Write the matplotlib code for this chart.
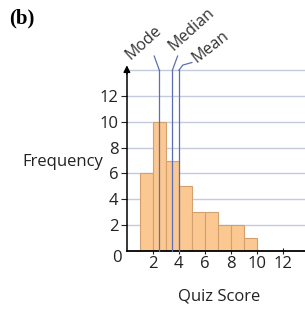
import matplotlib.pyplot as plt

# Datos del histograma
bin_left = [1, 2, 3, 4, 5, 6, 7, 8, 9]
frequency = [6, 10, 7, 5, 3, 3, 2, 2, 1]
x_ticks = [2, 4, 6, 8, 10, 12]
y_ticks = [2, 4, 6, 8, 10, 12]
stat_names = ["Mode", "Median", "Mean"]
stat_values = [2.5, 3.5, 4.0]

plt.rcParams['font.family'] = ['Open Sans', 'DejaVu Sans']

fig = plt.figure(figsize=(3.05, 3.09), dpi=100)
ax = fig.add_axes([0.416, 0.188, 0.584, 0.593])
ax.set_xlim(0, 13.7)
ax.set_ylim(0, 14.2)

grid_col = "#c3cbdc"
for g in y_ticks + [14]:
    ax.axhline(g, color=grid_col, lw=1.0, zorder=0)

ax.bar(bin_left, frequency, width=1, align='edge', color="#fcc891",
       edgecolor="#d4a070", linewidth=0.8, zorder=2)

line_col = "#5c6fb5"
for v in stat_values:
    ax.plot([v, v], [0, 14], color=line_col, lw=0.9, zorder=3, clip_on=False)

# conectores hacia las etiquetas
ax.plot([2.5, 2.1], [14, 15.1], color=line_col, lw=0.9, clip_on=False)
ax.plot([3.5, 3.9], [14, 15.1], color=line_col, lw=0.9, clip_on=False)
ax.plot([4.0, 4.3, 5.0], [14, 14.4, 14.6], color=line_col, lw=0.9, clip_on=False)

ax.text(1.3, 16.1, "Mode", rotation=42, ha='center', va='center', fontsize=11.5, color="#333333")
ax.text(5.0, 17.2, "Median", rotation=42, ha='center', va='center', fontsize=11.5, color="#333333")
ax.text(6.4, 15.8, "Mean", rotation=38, ha='center', va='center', fontsize=11.5, color="#333333")

for s in ["top", "right"]:
    ax.spines[s].set_visible(False)
ax.spines["left"].set_bounds(0, 14)
ax.spines["left"].set_linewidth(1.1)
ax.spines["bottom"].set_linewidth(1.3)
ax.annotate("", xy=(0, 14.6), xytext=(0, 13.5),
            arrowprops=dict(arrowstyle="-|>", color="black", lw=1.0), annotation_clip=False)

ax.set_xticks(x_ticks)
ax.set_yticks(y_ticks)
ax.tick_params(axis='both', labelsize=12, length=4, width=0.8, colors="#222222", pad=2)
ax.tick_params(axis='x', direction='inout', pad=2)
ax.text(-0.4, -0.55, "0", ha='right', va='center', fontsize=12, color="#222222")

fig.text(0.205, 0.476, "Frequency", ha='center', va='center', fontsize=12, color="#222222")
fig.text(0.72, 0.039, "Quiz Score", ha='center', va='center', fontsize=12, color="#222222")
fig.text(0.03, 0.94, "(b)", ha='left', va='center', fontsize=15, fontweight='bold',
         family='Liberation Serif')

fig.savefig("out.png", dpi=100)
